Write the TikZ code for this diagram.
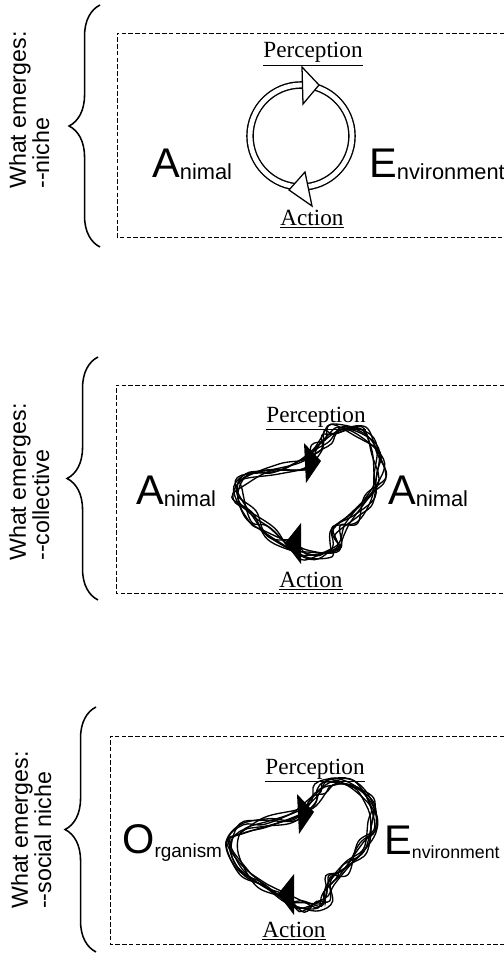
\documentclass[tikz,border=0pt]{standalone}
\usepackage{fontspec}
\setmainfont{Liberation Serif}
\setsansfont{Liberation Sans}
\usetikzlibrary{decorations.pathreplacing}

\newcommand{\capword}[3][15.5]{{\fontsize{29.5}{30}\selectfont #2}{\fontsize{#1}{16}\selectfont\raisebox{-2pt}{#3}}}
\newcommand{\jt}{6.5*rand}

\begin{document}
\begin{tikzpicture}[x=0.025cm,y=-0.025cm,
  every node/.style={inner sep=0pt},
  side/.style={font=\sffamily\fontsize{16.5}{15}\selectfont,rotate=90,align=left,anchor=base west},
  word/.style={font=\fontsize{16.5}{18}\selectfont,anchor=base},
  party/.style={font=\sffamily,anchor=base west},
  frame/.style={dash pattern=on 3.2pt off 1.6pt,line width=0.7pt},
  curly/.style={decorate,decoration={brace,amplitude=22pt},line width=1.1pt},
  ring/.style={double,double distance=3.4pt,line width=1pt},
  scrib/.style={line width=0.95pt},
  headopen/.style={fill=white,draw=black,line width=0.9pt,line join=miter},
  headfull/.style={fill=black}]
\useasboundingbox (0,0) rectangle (504,953);
\pgfmathsetseed{4242}
% niche
\draw[curly] (100,247) -- (100,5);
\draw[frame] (504,33) -| (117,237) -- (504,237);
\node[side] (why1) at (49,189) {What emerges:\\-{}-niche};
\node[word] (perc1) at (313,58) {\underline{Perception}};
\node[word] (act1) at (312,225) {\underline{Action}};
\node[party] (anim1) at (152,177) {\capword{A}{nimal}};
\node[party] (envi1) at (369,177) {\capword{E}{nvironment}};
\coordinate (hub1) at (301,136);
\draw[ring] (hub1) circle[radius=51];
\filldraw[headopen] (302,67) -- (319,85) -- (303,104) -- cycle;
\filldraw[headopen] (305,172) -- (289,190) -- (312,206) -- cycle;
% collective
\draw[curly] (98,600) -- (98,357);
\draw[frame] (504,385) -| (116,593) -- (504,593);
\node[side] (why2) at (49,561) {What emerges:\\-{}-collective};
\node[word] (perc2) at (316,422) {\underline{Perception}};
\node[word] (act2) at (311,587) {\underline{Action}};
\node[party] (anim2) at (136,504) {\capword{A}{nimal}};
\node[party] (anim3) at (388,504) {\capword{A}{nimal}};
% social niche
\draw[curly] (96,952) -- (96,707);
\draw[frame] (504,736) -| (110,944) -- (504,944);
\node[side] (why3) at (51,909) {What emerges:\\-{}-social niche};
\node[word] (perc3) at (315,774) {\underline{Perception}};
\node[word] (act3) at (294,937) {\underline{Action}};
\node[party] (orga3) at (122,853) {\capword[13.5]{O}{\raisebox{-1pt}{rganism}}};
\node[party] (envi3) at (384,854) {\capword[12.6]{E}{\raisebox{-1pt}{nvironment}}};
% scribbled loops
\foreach \cx/\cy in {310/495,303/846}{
  \foreach \k in {1,...,8}{
    \draw[scrib] plot[smooth cycle,tension=0.6] coordinates {
      ({\cx+7+\jt},{\cy-45+\jt}) ({\cx+17+\jt},{\cy-58+\jt}) ({\cx+27+\jt},{\cy-65+\jt})
      ({\cx+50+\jt},{\cy-62+\jt}) ({\cx+66+\jt},{\cy-45+\jt}) ({\cx+70+\jt},{\cy-22+\jt})
      ({\cx+60+\jt},{\cy+2+\jt}) ({\cx+43+\jt},{\cy+22+\jt}) ({\cx+28+\jt},{\cy+35+\jt})
      ({\cx+25+\jt},{\cy+52+\jt}) ({\cx+17+\jt},{\cy+60+\jt}) ({\cx+\jt},{\cy+60+\jt})
      ({\cx-17+\jt},{\cy+52+\jt}) ({\cx-40+\jt},{\cy+38+\jt}) ({\cx-60+\jt},{\cy+22+\jt})
      ({\cx-72+\jt},{\cy-2+\jt}) ({\cx-63+\jt},{\cy-17+\jt}) ({\cx-37+\jt},{\cy-25+\jt})
      ({\cx-7+\jt},{\cy-30+\jt})};
  }
  \fill[headfull] ({\cx-6},{\cy-52}) -- ({\cx+11},{\cy-34}) -- ({\cx-4},{\cy-12}) -- cycle;
  \fill[headfull] ({\cx-9},{\cy+28}) -- ({\cx-25},{\cy+48}) -- ({\cx-9},{\cy+69}) -- cycle;
}
\end{tikzpicture}
\end{document}
